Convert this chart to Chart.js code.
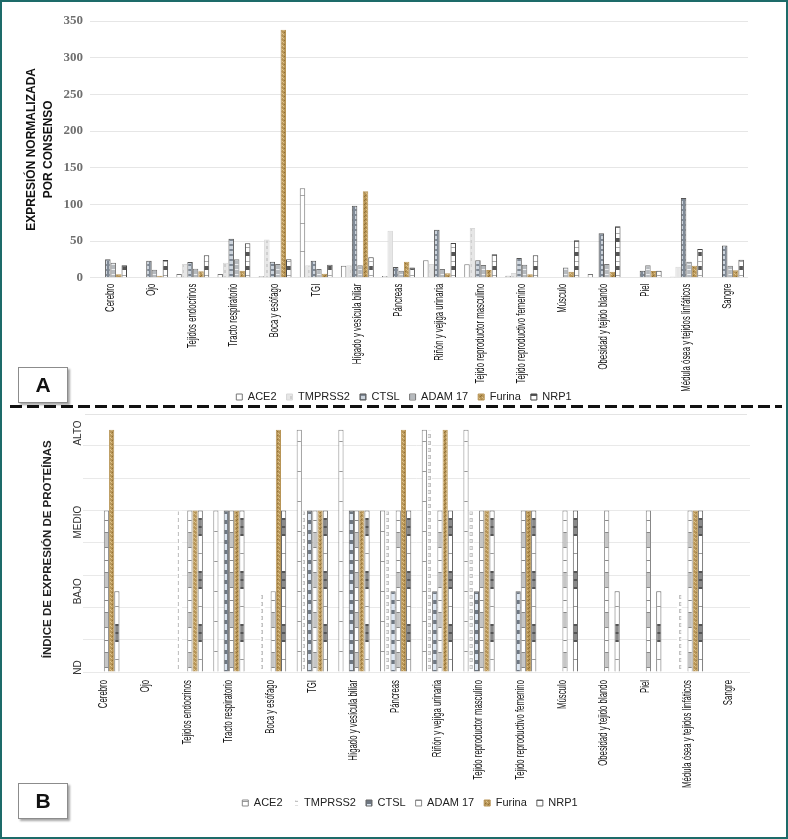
<!DOCTYPE html>
<html lang="es">
<head>
<meta charset="utf-8">
<title>Expresión de genes de entrada viral por tejido</title>
<script src="https://cdn.jsdelivr.net/npm/chart.js@4.4.1/dist/chart.umd.min.js"></script>
<style>
  html, body { margin: 0; padding: 0; background: #fff; }
  #page { position: relative; width: 788px; height: 839px; overflow: hidden; background: #fff; }
  #page canvas { position: absolute; left: 0; }
  #chartA { top: 0; }
  #chartB { top: 412px; }
  .frame { position: absolute; left: 0; top: 0; width: 788px; height: 839px; border: 2px solid #1d6b69; box-sizing: border-box; pointer-events: none; }
  .dash { position: absolute; left: 10px; top: 405px; width: 772px; height: 3px;
          background: repeating-linear-gradient(to right, #111 0 12px, transparent 12px 17px); }
  .thin { position: absolute; left: 85px; top: 414px; width: 662px; height: 1px; background: #e4e4e4; }
  .tag { position: absolute; left: 18px; width: 48px; height: 34px; border: 1px solid #8c8c8c;
         box-shadow: 2px 2px 2px rgba(0,0,0,.35); background: #fff; color: #111;
         font: bold 21px 'Liberation Sans', Arial, sans-serif; text-align: center; line-height: 34px; }
</style>
</head>
<body>
<div id="page">
  <canvas id="chartA" width="788" height="420"></canvas>
  <canvas id="chartB" width="788" height="427"></canvas>
  <div class="dash"></div>
  <div class="thin"></div>
  <div class="tag" style="top:367px">A</div>
  <div class="tag" style="top:783px">B</div>
  <div class="frame"></div>
</div>
<script>
const TISSUES = [
  "Cerebro", "Ojo", "Tejidos endocrinos", "Tracto respiratorio", "Boca y esófago", "TGI",
  "Hígado y vesícula biliar", "Páncreas", "Riñón y vejiga urinaria", "Tejido reproductor masculino",
  "Tejido reproductivo femenino", "Músculo", "Obesidad y tejido blando", "Piel",
  "Médula ósea y tejidos linfáticos", "Sangre"
];
const SERIES = ["ACE2", "TMPRSS2", "CTSL", "ADAM 17", "Furina", "NRP1"];

// A: expresión normalizada por consenso (ARN)
const ACE2_RNA    = [0, 0, 5, 5, 1.9, 121.8, 16.4, 2.3, 23.7, 18.2, 2.7, 0, 5, 0.5, 1.4, 0.5];
const TMPRSS2_RNA = [0, 0, 18.7, 20.4, 52, 17, 17, 64, 18.7, 67.7, 6.4, 0, 0, 0, 15, 0];
const CTSL_RNA    = [25, 23, 21.4, 53, 21.8, 23, 98, 14.6, 65.4, 23.7, 26.8, 0, 60.5, 9.5, 108.6, 44];
const ADAM17_RNA  = [20.4, 11, 12.3, 25, 18.7, 11.9, 17, 9.5, 11.9, 17.3, 17.7, 14, 18.7, 16.9, 21.8, 16.4];
const FURINA_RNA  = [4.6, 2.7, 8.7, 9.5, 338, 5.5, 118, 21.8, 6, 10.5, 4.6, 8.2, 8.2, 9, 16.4, 10];
const NRP1_RNA    = [17, 24, 30.5, 47, 25, 17.7, 27.8, 14, 47.3, 31.9, 30.5, 51, 70, 9.5, 39, 24.5];

// B: índice de expresión de proteínas
const ND = 0, BAJO = 2.5, MEDIO = 5, ALTO = 7.5;
const LEVEL_LABELS = ["ND", "BAJO", "MEDIO", "ALTO"];
const LEVEL_VALUES = [ND, BAJO, MEDIO, ALTO];
const ACE2_PROT    = [ND, ND, ND, MEDIO, ND, ALTO, ALTO, MEDIO, ALTO, ALTO, ND, ND, ND, ND, ND, ND];
const TMPRSS2_PROT = [ND, ND, MEDIO, ND, BAJO, MEDIO, ND, MEDIO, ALTO, MEDIO, ND, ND, ND, ND, BAJO, ND];
const CTSL_PROT    = [ND, ND, ND, MEDIO, ND, MEDIO, MEDIO, BAJO, BAJO, BAJO, BAJO, ND, ND, ND, ND, ND];
const ADAM17_PROT  = [MEDIO, ND, MEDIO, MEDIO, BAJO, MEDIO, MEDIO, MEDIO, MEDIO, MEDIO, MEDIO, MEDIO, MEDIO, MEDIO, MEDIO, ND];
const FURINA_PROT  = [ALTO, ND, MEDIO, MEDIO, ALTO, MEDIO, MEDIO, ALTO, ALTO, MEDIO, MEDIO, ND, ND, ND, MEDIO, ND];
const NRP1_PROT    = [BAJO, ND, MEDIO, MEDIO, MEDIO, MEDIO, MEDIO, MEDIO, MEDIO, MEDIO, MEDIO, MEDIO, BAJO, BAJO, MEDIO, ND];

const SANS = "'Liberation Sans', Arial, sans-serif";
const SERIF = "'Liberation Serif', 'Times New Roman', serif";

function makePattern(w, h, paint) {
  const c = document.createElement("canvas");
  c.width = w;
  c.height = h;
  const g = c.getContext("2d");
  paint(g, w, h);
  return g.createPattern(c, "repeat");
}

function speckle(g) {
  g.fillStyle = "#b89556"; g.fillRect(0, 0, 4, 4);
  g.fillStyle = "#8f7036"; g.fillRect(0, 0, 1, 1); g.fillRect(1, 3, 1, 1);
  g.fillStyle = "#dcc38d"; g.fillRect(2, 1, 1, 1); g.fillRect(3, 2, 1, 1);
}

// patterns for panel A (thin bars)
const FILLS_A = [
  makePattern(6, 28, (g) => { g.fillStyle = "#fff"; g.fillRect(0, 0, 6, 28); g.fillStyle = "#a8a8a8"; g.fillRect(0, 27, 6, 1); }),
  makePattern(6, 6, (g) => { g.fillStyle = "#e6e6e6"; g.fillRect(0, 0, 6, 6); g.fillStyle = "#cfcfcf"; g.fillRect(2, 0, 2, 3); }),
  makePattern(6, 5, (g) => { g.fillStyle = "#7f8995"; g.fillRect(0, 0, 6, 5); g.fillStyle = "#ccd4dd"; g.fillRect(1, 1, 4, 3); }),
  makePattern(6, 5, (g) => { g.fillStyle = "#b6babe"; g.fillRect(0, 0, 6, 5); g.fillStyle = "#eceef0"; g.fillRect(0, 4, 6, 1); }),
  makePattern(4, 4, speckle),
  makePattern(6, 14, (g) => { g.fillStyle = "#fff"; g.fillRect(0, 0, 6, 14); g.fillStyle = "#555"; g.fillRect(0, 0, 6, 4); g.fillStyle = "#aaa"; g.fillRect(0, 9, 6, 1); }),
];
const BORDERS_A = ["#777", "#d8d8d8", "#555", "#777", "#b89556", "#444"];

// patterns for panel B
const FILLS_B = [
  makePattern(6, 30, (g) => { g.fillStyle = "#fff"; g.fillRect(0, 0, 6, 30); g.fillStyle = "#999"; g.fillRect(0, 29, 6, 1); }),
  makePattern(6, 7, (g) => { g.fillStyle = "#fff"; g.fillRect(0, 0, 6, 7); g.fillStyle = "#c2c2c2"; g.fillRect(1, 1, 4, 4); g.fillStyle = "#e6e6e6"; g.fillRect(2, 2, 2, 2); }),
  makePattern(6, 10, (g) => { g.fillStyle = "#6e7782"; g.fillRect(0, 0, 6, 10); g.fillStyle = "#dce6f2"; g.fillRect(1, 2, 4, 6); }),
  makePattern(6, 40, (g) => {
    g.fillStyle = "#fff"; g.fillRect(0, 0, 6, 40);
    g.fillStyle = "#c6c6c6"; g.fillRect(0, 0, 6, 16);
    g.fillStyle = "#888"; g.fillRect(0, 0, 6, 1); g.fillRect(0, 15, 6, 1); g.fillRect(0, 28, 6, 1);
  }),
  makePattern(4, 4, speckle),
  makePattern(6, 53, (g) => {
    g.fillStyle = "#fff"; g.fillRect(0, 0, 6, 53);
    g.fillStyle = "#8a8a8a"; g.fillRect(0, 0, 6, 18);
    g.fillStyle = "#555"; g.fillRect(0, 0, 6, 2); g.fillRect(0, 8, 6, 2); g.fillRect(0, 16, 6, 2);
    g.fillStyle = "#999"; g.fillRect(0, 35, 6, 1);
  }),
];
const BORDERS_B = ["#888", "#ffffff", "#666", "#888", "#b89556", "#666"];

// category labels in the figure use a condensed face; squeeze them along the text
const squeezedTicks = {
  id: "squeezedTicks",
  afterDraw(chart, args, opts) {
    const scale = chart.scales.x;
    const ctx = chart.ctx;
    ctx.save();
    ctx.fillStyle = "#111";
    ctx.font = "12px " + SANS;
    ctx.textAlign = "right";
    ctx.textBaseline = "middle";
    scale.ticks.forEach((tick, i) => {
      ctx.save();
      ctx.translate(scale.getPixelForTick(i), scale.top + opts.padding);
      ctx.rotate(-Math.PI / 2);
      ctx.scale(0.65, 1);
      ctx.fillText(chart.data.labels[tick.value], 0, 0);
      ctx.restore();
    });
    ctx.restore();
  },
};

function buildDatasets(values, fills, borders) {
  return SERIES.map((name, i) => ({
    label: name,
    data: values[i],
    backgroundColor: fills[i],
    borderColor: borders[i],
    borderWidth: 1,
  }));
}

function categoryAxis(height) {
  return {
    grid: { display: false },
    border: { display: false },
    ticks: { display: false, autoSkip: false },
    afterFit: (scale) => { scale.height = height; },
  };
}

const legendOptions = {
  position: "bottom",
  labels: {
    boxWidth: 6,
    boxHeight: 6,
    padding: 10,
    color: "#222",
    font: { family: SANS, size: 11 },
  },
};

new Chart(document.getElementById("chartA"), {
  type: "bar",
  data: {
    labels: TISSUES,
    datasets: buildDatasets([ACE2_RNA, TMPRSS2_RNA, CTSL_RNA, ADAM17_RNA, FURINA_RNA, NRP1_RNA], FILLS_A, BORDERS_A),
  },
  plugins: [squeezedTicks],
  options: {
    responsive: false,
    animation: false,
    events: [],
    layout: { padding: { top: 21, right: 40, bottom: 7.5, left: 60 } },
    datasets: { bar: { categoryPercentage: 0.8, barPercentage: 1 } },
    scales: {
      x: categoryAxis(103.8),
      y: {
        min: 0,
        max: 350,
        grid: { color: "#e6e6e6", drawTicks: false },
        border: { display: false },
        ticks: { stepSize: 50, padding: 7, color: "#6f6f6f", font: { family: SERIF, size: 13, weight: "bold" } },
        title: {
          display: true,
          text: ["EXPRESIÓN NORMALIZADA", "POR CONSENSO"],
          color: "#111",
          font: { family: SANS, size: 12, weight: "bold", lineHeight: 1.4 },
          padding: { top: 32 - 60 - 8.4, bottom: 0 },
        },
        afterFit: (scale) => { scale.width = 30; },
      },
    },
    plugins: {
      legend: legendOptions,
      tooltip: { enabled: false },
      squeezedTicks: { padding: 6 },
    },
  },
});

new Chart(document.getElementById("chartB"), {
  type: "bar",
  data: {
    labels: TISSUES,
    datasets: buildDatasets([ACE2_PROT, TMPRSS2_PROT, CTSL_PROT, ADAM17_PROT, FURINA_PROT, NRP1_PROT], FILLS_B, BORDERS_B),
  },
  plugins: [squeezedTicks],
  options: {
    responsive: false,
    animation: false,
    events: [],
    layout: { padding: { top: 14.5, right: 38, bottom: 20.5, left: 70 } },
    datasets: { bar: { categoryPercentage: 0.75, barPercentage: 1 } },
    scales: {
      x: categoryAxis(115.5),
      y: {
        min: 0,
        max: 7.6,
        grid: { color: "#e9e9e9", drawTicks: false },
        border: { display: false },
        ticks: { display: false },
        afterBuildTicks: (scale) => {
          scale.ticks = [0, 1, 2, 3, 4, 5, 6, 7].map((v) => ({ value: v }));
        },
        afterFit: (scale) => { scale.width = 0; },
      },
      yLevel: {
        type: "linear",
        position: "left",
        min: 0,
        max: 7.6,
        grid: { display: false, drawTicks: false },
        border: { display: false },
        afterBuildTicks: (scale) => {
          // labels sit slightly off the bar levels in the original figure
          const shift = [0.14, 0, -0.36, -0.1];
          scale.ticks = LEVEL_VALUES.map((v, i) => ({ value: v + shift[i] }));
        },
        ticks: {
          minRotation: 90,
          maxRotation: 90,
          crossAlign: "center",
          padding: -12,
          color: "#333",
          font: { family: SANS, size: 10 },
          callback: (value, index) => LEVEL_LABELS[index],
        },
        title: {
          display: true,
          text: "ÍNDICE DE EXPRESIÓN DE PROTEÍNAS",
          color: "#222",
          font: { family: SANS, size: 11.5, weight: "bold" },
          padding: { top: 47.5 - 70 - 6.9, bottom: 0 },
        },
        afterFit: (scale) => { scale.width = 13; },
      },
    },
    plugins: {
      legend: legendOptions,
      tooltip: { enabled: false },
      squeezedTicks: { padding: 8 },
    },
  },
});
</script>
</body>
</html>
